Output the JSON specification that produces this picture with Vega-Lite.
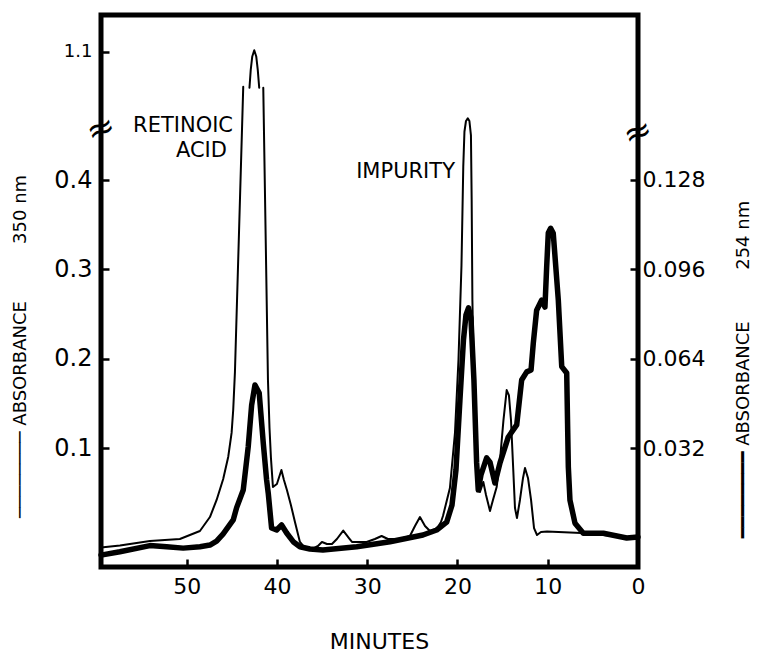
{
"$schema": "https://vega.github.io/schema/vega-lite/v6.json",
"width": 537,
"height": 552,
"autosize": "none",
"padding": {"left": 101, "top": 15, "right": 123, "bottom": 87},
"background": "white",
"config": {
  "view": {"stroke": "black", "strokeWidth": 5},
  "font": "DejaVu Sans",
  "axis": {"grid": false, "domain": false, "tickColor": "black", "tickWidth": 2.5, "tickSize": -8, "labelColor": "black", "titleColor": "black", "labelFont": "DejaVu Sans", "titleFont": "DejaVu Sans", "labelFontWeight": "normal", "titleFontWeight": "normal", "labelOverlap": false}
},
"datasets": {
  "thin": [
    {"min":59.5,"a350":-0.0112,"seg":"A"},{"min":57.4,"a350":-0.009,"seg":"A"},{"min":54.08,"a350":-0.0039,"seg":"A"},{"min":50.76,"a350":-0.0017,"seg":"A"},{"min":48.54,"a350":0.0073,"seg":"A"},{"min":47.43,"a350":0.0229,"seg":"A"},{"min":46.69,"a350":0.042,"seg":"A"},{"min":45.96,"a350":0.0655,"seg":"A"},{"min":45.40,"a350":0.0904,"seg":"A"},{"min":45.03,"a350":0.117,"seg":"A"},{"min":44.85,"a350":0.143,"seg":"A"},{"min":44.66,"a350":0.185,"seg":"A"},{"min":43.74,"a350":1.061,"seg":"A"},
    {"min":43.05,"a350":1.06,"seg":"B"},{"min":42.91,"a350":1.08,"seg":"B"},{"min":42.74,"a350":1.095,"seg":"B"},{"min":42.52,"a350":1.102,"seg":"B"},{"min":42.30,"a350":1.095,"seg":"B"},{"min":42.13,"a350":1.08,"seg":"B"},{"min":41.97,"a350":1.06,"seg":"B"},
    {"min":41.52,"a350":1.06,"seg":"C"},{"min":41.0,"a350":0.176,"seg":"C"},{"min":40.83,"a350":0.1225,"seg":"C"},{"min":40.67,"a350":0.089,"seg":"C"},{"min":40.45,"a350":0.0565,"seg":"C"},{"min":40.01,"a350":0.0599,"seg":"C"},{"min":39.51,"a350":0.0755,"seg":"C"},{"min":39.23,"a350":0.0643,"seg":"C"},{"min":38.90,"a350":0.0531,"seg":"C"},{"min":38.46,"a350":0.0364,"seg":"C"},{"min":38.01,"a350":0.0173,"seg":"C"},{"min":37.46,"a350":-0.005,"seg":"C"},{"min":36.90,"a350":-0.0117,"seg":"C"},{"min":36.13,"a350":-0.0129,"seg":"C"},{"min":35.46,"a350":-0.0095,"seg":"C"},{"min":35.02,"a350":-0.005,"seg":"C"},{"min":34.46,"a350":-0.0073,"seg":"C"},{"min":33.91,"a350":-0.0073,"seg":"C"},{"min":33.36,"a350":-0.0017,"seg":"C"},{"min":32.66,"a350":0.0078,"seg":"C"},{"min":32.03,"a350":-0.0006,"seg":"C"},{"min":31.69,"a350":-0.005,"seg":"C"},{"min":30.07,"a350":-0.005,"seg":"C"},{"min":29.15,"a350":-0.0017,"seg":"C"},{"min":28.41,"a350":0.0017,"seg":"C"},{"min":27.71,"a350":-0.0017,"seg":"C"},{"min":26.38,"a350":-0.0017,"seg":"C"},{"min":25.27,"a350":0.0017,"seg":"C"},{"min":24.71,"a350":0.0129,"seg":"C"},{"min":24.16,"a350":0.0229,"seg":"C"},{"min":23.60,"a350":0.0129,"seg":"C"},{"min":23.05,"a350":0.0073,"seg":"C"},{"min":22.31,"a350":0.0095,"seg":"C"},{"min":21.83,"a350":0.0173,"seg":"C"},{"min":21.61,"a350":0.024,"seg":"C"},{"min":20.84,"a350":0.0554,"seg":"C"},{"min":20.28,"a350":0.117,"seg":"C"},{"min":19.89,"a350":0.199,"seg":"C"},{"min":19.56,"a350":0.304,"seg":"C"},{"min":19.36,"a350":0.415,"seg":"C"},{"min":19.23,"a350":0.454,"seg":"C"},{"min":19.06,"a350":0.466,"seg":"C"},{"min":18.86,"a350":0.469,"seg":"C"},{"min":18.68,"a350":0.466,"seg":"C"},{"min":18.51,"a350":0.450,"seg":"C"},{"min":18.43,"a350":0.378,"seg":"C"},{"min":18.35,"a350":0.266,"seg":"C"},{"min":18.18,"a350":0.176,"seg":"C"},{"min":17.95,"a350":0.098,"seg":"C"},{"min":17.70,"a350":0.0587,"seg":"C"},{"min":17.51,"a350":0.0509,"seg":"C"},{"min":17.14,"a350":0.0621,"seg":"C"},{"min":16.84,"a350":0.0476,"seg":"C"},{"min":16.40,"a350":0.0297,"seg":"C"},{"min":16.07,"a350":0.042,"seg":"C"},{"min":15.66,"a350":0.0565,"seg":"C"},{"min":15.29,"a350":0.0867,"seg":"C"},{"min":14.91,"a350":0.131,"seg":"C"},{"min":14.55,"a350":0.165,"seg":"C"},{"min":14.30,"a350":0.159,"seg":"C"},{"min":14.07,"a350":0.131,"seg":"C"},{"min":13.82,"a350":0.0755,"seg":"C"},{"min":13.63,"a350":0.033,"seg":"C"},{"min":13.41,"a350":0.0218,"seg":"C"},{"min":13.08,"a350":0.042,"seg":"C"},{"min":12.74,"a350":0.0666,"seg":"C"},{"min":12.52,"a350":0.0778,"seg":"C"},{"min":12.19,"a350":0.0666,"seg":"C"},{"min":11.85,"a350":0.042,"seg":"C"},{"min":11.52,"a350":0.0106,"seg":"C"},{"min":11.19,"a350":0.0028,"seg":"C"},{"min":10.75,"a350":0.0062,"seg":"C"},{"min":10.08,"a350":0.0067,"seg":"C"},{"min":5.65,"a350":0.0047,"seg":"C"},{"min":2.00,"a350":0.0009,"seg":"C"},{"min":0.33,"a350":-0.0006,"seg":"C"},{"min":0,"a350":0,"seg":"C"}
  ],
  "thick": [
    {"min":59.5,"a254":-0.0063},{"min":57.41,"a254":-0.0051},{"min":54.08,"a254":-0.0029},{"min":52.23,"a254":-0.0033},{"min":50.39,"a254":-0.0038},{"min":48.54,"a254":-0.0033},{"min":47.43,"a254":-0.0027},{"min":46.69,"a254":-0.0013},{"min":45.96,"a254":0.0013},{"min":44.85,"a254":0.0063},{"min":44.47,"a254":0.0107},{"min":43.74,"a254":0.0170},{"min":43.19,"a254":0.0324},{"min":42.81,"a254":0.0474},{"min":42.44,"a254":0.0546},{"min":41.97,"a254":0.0517},{"min":41.52,"a254":0.0338},{"min":41.15,"a254":0.0206},{"min":40.97,"a254":0.0159},{"min":40.60,"a254":0.0034},{"min":40.04,"a254":0.0027},{"min":39.49,"a254":0.0045},{"min":38.93,"a254":0.0016},{"min":38.20,"a254":-0.0015},{"min":37.46,"a254":-0.0033},{"min":36.35,"a254":-0.0041},{"min":34.91,"a254":-0.0045},{"min":31.17,"a254":-0.0033},{"min":27.48,"a254":-0.0015},{"min":23.83,"a254":0.0009},{"min":22.31,"a254":0.0027},{"min":21.20,"a254":0.0055},{"min":20.61,"a254":0.0116},{"min":20.17,"a254":0.0242},{"min":19.73,"a254":0.0492},{"min":19.34,"a254":0.0707},{"min":19.06,"a254":0.0797},{"min":18.78,"a254":0.0822},{"min":18.51,"a254":0.0786},{"min":18.18,"a254":0.0564},{"min":17.88,"a254":0.0267},{"min":17.70,"a254":0.0170},{"min":17.40,"a254":0.0224},{"min":16.77,"a254":0.0285},{"min":16.40,"a254":0.0270},{"min":15.85,"a254":0.0195},{"min":15.29,"a254":0.0267},{"min":14.37,"a254":0.0360},{"min":13.44,"a254":0.0403},{"min":12.89,"a254":0.0564},{"min":12.33,"a254":0.0593},{"min":11.85,"a254":0.0600},{"min":11.60,"a254":0.0696},{"min":11.23,"a254":0.0814},{"min":10.67,"a254":0.0850},{"min":10.31,"a254":0.0825},{"min":10.12,"a254":0.0968},{"min":9.94,"a254":0.1090},{"min":9.68,"a254":0.1107},{"min":9.39,"a254":0.1089},{"min":8.83,"a254":0.0850},{"min":8.45,"a254":0.0612},{"min":7.90,"a254":0.0589},{"min":7.72,"a254":0.0253},{"min":7.54,"a254":0.0134},{"min":6.98,"a254":0.0051},{"min":6.06,"a254":0.0015},{"min":3.84,"a254":0.0015},{"min":1.25,"a254":-0.0002},{"min":0,"a254":0.0002}
  ],
  "labels": [
    {"min":44.87,"a350":0.4599,"text":"RETINOIC"},
    {"min":45.54,"a350":0.4330,"text":"ACID"},
    {"min":20.28,"a350":0.4084,"text":"IMPURITY"}
  ],
  "breaks": [
    {"min":59.5,"a350":0.4565},
    {"min":0,"a350":0.4526}
  ]
},
"encoding": {
  "x": {"field": "min", "type": "quantitative", "scale": {"domain": [0, 59.5], "reverse": true, "nice": false, "zero": false},
        "axis": {"orient": "bottom", "values": [0, 10, 20, 30, 40, 50], "title": "MINUTES", "labelFontSize": 22, "labelPadding": 17, "labelFlush": false, "titleFontSize": 22, "titleX": 278, "titleY": 74.5, "titleBaseline": "middle", "titleAlign": "center"}}
},
"layer": [
  {"data": {"name": "thin"},
   "mark": {"type": "line", "stroke": "black", "strokeWidth": 2, "strokeJoin": "round", "strokeCap": "round"},
   "encoding": {
     "y": {"field": "a350", "type": "quantitative", "scale": {"type": "linear", "domain": [-0.033, 0.48, 1.037, 1.1414], "range": [552, 93.5, 93.3, 0], "nice": false, "zero": false},
           "axis": {"orient": "left", "values": [0.1, 0.2, 0.3, 0.4, 1.1], "format": ".1f", "labelFontSize": {"condition": {"test": "datum.value > 1", "value": 18}, "value": 24}, "labelPadding": 17,
                    "title": "────────\u00a0ABSORBANCE\u00a0\u00a0\u00a0\u00a0\u00a0\u00a0\u00a0\u00a0\u00a0\u00a0350\u00a0nm", "titleFontSize": 18, "titleAngle": 270, "titleX": -81, "titleY": 331, "titleAlign": "center", "titleBaseline": "middle"}},
     "detail": {"field": "seg"}
   }},
  {"data": {"name": "labels"},
   "mark": {"type": "text", "align": "right", "baseline": "middle", "fontSize": 21, "font": "DejaVu Sans", "color": "black"},
   "encoding": {
     "y": {"field": "a350", "type": "quantitative", "scale": {"type": "linear", "domain": [-0.033, 0.48, 1.037, 1.1414], "range": [552, 93.5, 93.3, 0], "nice": false, "zero": false}, "axis": null},
     "text": {"field": "text"}
   }},
  {"data": {"name": "breaks"},
   "mark": {"type": "text", "align": "center", "baseline": "middle", "fontSize": 34, "angle": 340, "font": "DejaVu Sans", "color": "black"},
   "encoding": {
     "y": {"field": "a350", "type": "quantitative", "scale": {"type": "linear", "domain": [-0.033, 0.48, 1.037, 1.1414], "range": [552, 93.5, 93.3, 0], "nice": false, "zero": false}, "axis": null},
     "text": {"value": "≈"}
   }},
  {"data": {"name": "thick"},
   "mark": {"type": "line", "stroke": "black", "strokeWidth": 5.5, "strokeJoin": "round", "strokeCap": "round"},
   "encoding": {
     "y": {"field": "a254", "type": "quantitative", "scale": {"domain": [-0.01056, 0.18707], "nice": false, "zero": false},
           "axis": {"orient": "right", "values": [0.032, 0.064, 0.096, 0.128], "format": ".3f", "labelFontSize": 22, "labelPadding": 12,
                    "title": "━━━━━━━━\u00a0ABSORBANCE\u00a0\u00a0\u00a0\u00a0\u00a0\u00a0\u00a0\u00a0\u00a0254\u00a0nm", "titleFontSize": 18, "titleAngle": 270, "titleX": 105, "titleY": 354, "titleAlign": "center", "titleBaseline": "middle"}}
   }}
],
"resolve": {"scale": {"y": "independent"}}
}
